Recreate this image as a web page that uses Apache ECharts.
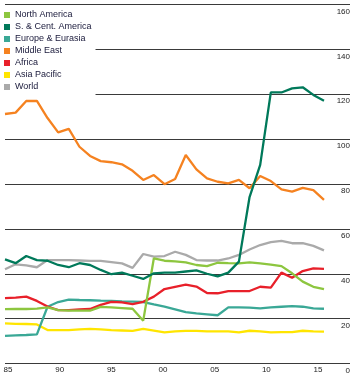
<!DOCTYPE html>
<html><head><meta charset="utf-8">
<script src="https://cdn.jsdelivr.net/npm/echarts@6/dist/echarts.min.js"></script>
<style>html,body{margin:0;padding:0;background:#fff}#c{width:355px;height:377px}</style>
</head><body><div id="c"></div>
<script>
var years = [];
for (var y = 1985; y <= 2015; y++) years.push(y);
var tickYears = [1985, 1990, 1995, 2000, 2005, 2010, 2015];
var yTicks = [0, 20, 40, 60, 80, 100, 120, 140, 160];

var northAmerica = [24.2,24.3,24.3,24.5,25.0,23.8,23.6,23.6,23.6,25.2,25.0,24.7,24.4,19.1,46.9,45.8,45.5,45.1,43.9,43.4,44.9,44.7,44.6,45.1,44.6,44.1,43.4,40.2,36.5,34.2,33.1];
var southCentAmerica = [46.4,44.7,47.9,46.1,45.8,43.9,42.9,44.7,43.9,41.7,39.8,40.5,39.1,37.7,40.2,40.5,40.5,41.0,41.5,40.0,38.8,40.5,45.4,74.2,88.5,120.8,120.8,122.6,123.1,119.7,117.1];
var europeEurasia = [12.3,12.5,12.7,13.0,25.3,27.4,28.5,28.3,28.2,28.0,27.9,27.7,27.6,27.4,26.3,25.3,24.1,22.9,22.3,21.9,21.5,25.0,25.0,24.9,24.6,25.0,25.3,25.6,25.3,24.6,24.4];
var middleEast = [111.2,111.8,117.0,117.0,109.4,103.0,104.6,96.6,92.5,90.2,89.7,88.8,85.9,81.8,84.0,79.9,82.2,92.9,86.5,82.5,81.0,80.3,81.8,78.1,83.6,81.3,77.6,76.6,78.3,77.3,72.9];
var africa = [29.1,29.4,29.8,27.9,25.4,23.8,23.8,24.1,24.3,26.1,27.5,27.2,26.5,27.5,29.8,33.2,34.2,35.2,34.3,31.4,31.3,32.3,32.3,32.3,34.2,33.8,40.5,38.2,41.2,42.4,42.2];
var asiaPacific = [17.9,17.7,17.6,17.4,14.9,14.9,14.9,15.2,15.4,15.2,14.9,14.7,14.5,15.4,14.7,13.9,14.3,14.5,14.5,14.3,14.3,14.3,13.9,14.6,14.3,13.9,14.0,14.0,14.6,14.3,14.2];
var world = [42.0,44.2,43.7,42.9,46.1,46.1,46.1,45.9,45.7,45.7,45.2,44.6,42.6,48.8,47.6,47.9,49.8,48.4,46.1,45.9,45.9,46.8,48.4,50.8,52.8,54.1,54.7,53.6,53.6,52.4,50.4];

var seriesNames = ['North America','S. & Cent. America','Europe & Eurasia','Middle East','Africa','Asia Pacific','World'];
var seriesColors = ['#8dc63f','#00795a','#3aa896','#f58220','#e8202a','#ffe500','#aaaaaa'];
var seriesData = [northAmerica, southCentAmerica, europeEurasia, middleEast, africa, asiaPacific, world];
var drawOrder = [6,5,2,4,0,3,1];

function pairs(arr){ return arr.map(function(v,i){ return [years[i], v]; }); }

var series = drawOrder.map(function(k){
  return {
    name: seriesNames[k], type: 'line', data: pairs(seriesData[k]),
    xAxisIndex: 0, yAxisIndex: 0, showSymbol: false, symbol: 'none',
    color: seriesColors[k], lineStyle: { width: 2.3, color: seriesColors[k] },
    animation: false
  };
});

var chart = echarts.init(document.getElementById('c'), null, { renderer: 'canvas' });
chart.setOption({
  animation: false,
  textStyle: { fontFamily: 'Liberation Sans, Arial, sans-serif' },
  grid: { left: 5, right: 5, top: 4.5, bottom: 13.5, containLabel: false },
  legend: {
    data: seriesNames, orient: 'vertical', left: 0, top: 6.5,
    padding: [2.5, 4, 3.5, 4], itemGap: 0, itemWidth: 6, itemHeight: 6,
    icon: 'rect', backgroundColor: '#ffffff', z: 10,
    textStyle: { fontSize: 9, color: '#202040', lineHeight: 12, fontFamily: 'Liberation Sans, Arial, sans-serif' }
  },
  xAxis: [
    { type: 'value', min: 1985, max: 1985 + 345 / 10.633, show: false },
    { type: 'value', position: 'bottom', min: 1985 - 3 / 10.333, max: 1985 + 342 / 10.333,
      axisLine: { show: false }, axisTick: { show: false }, splitLine: { show: false },
      axisLabel: { customValues: tickYears, margin: 2, fontSize: 8, color: '#222',
        formatter: function(v){ return String(v).slice(2); } } }
  ],
  yAxis: {
    type: 'value', position: 'right', min: 0, max: 160, interval: 20,
    axisLine: { show: false }, axisTick: { show: false },
    splitLine: { show: true, lineStyle: { color: '#3a3a3a', width: 1 } },
    axisLabel: { inside: true, margin: 0, fontSize: 8, color: '#222', verticalAlign: 'top',
      padding: [3, 0, 0, 0], align: 'right',
      formatter: function(v){ return yTicks.indexOf(v) >= 0 ? String(v) : ''; } }
  },
  series: series
});
</script></body></html>
